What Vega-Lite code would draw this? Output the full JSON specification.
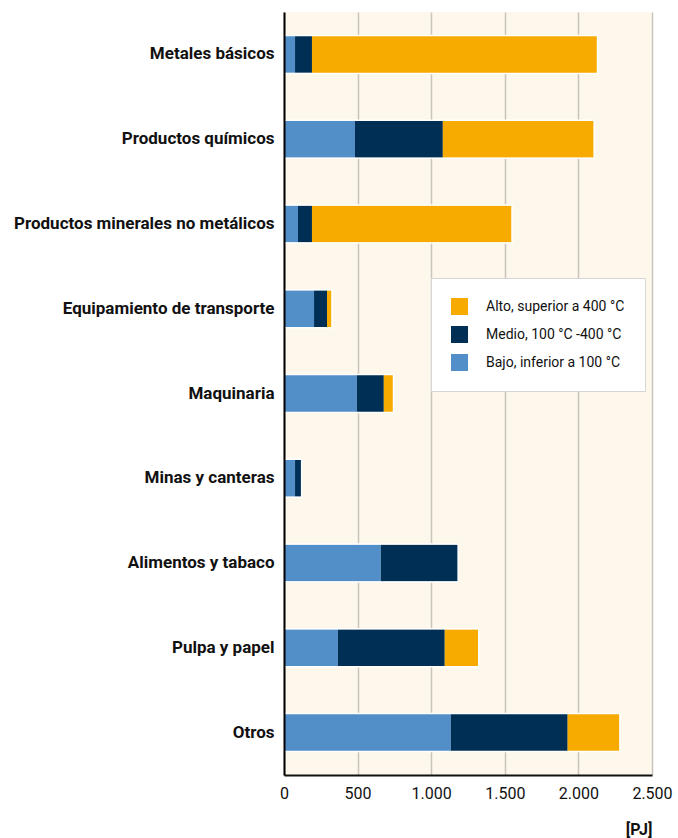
{
  "$schema": "https://vega.github.io/schema/vega-lite/v6.json",
  "autosize": "none",
  "width": 368,
  "height": 763,
  "padding": {"left": 284, "top": 12, "right": 26, "bottom": 63},
  "background": "white",
  "config": {
    "view": {"fill": "#FEF7EB", "stroke": null},
    "font": "Roboto"
  },
  "data": {
    "values": [
      {"sector": "Metales básicos", "nivel": "Bajo, inferior a 100 °C", "ord": 1, "value": 75},
      {"sector": "Metales básicos", "nivel": "Medio, 100 °C -400 °C", "ord": 2, "value": 115},
      {"sector": "Metales básicos", "nivel": "Alto, superior a 400 °C", "ord": 3, "value": 1940},
      {"sector": "Productos químicos", "nivel": "Bajo, inferior a 100 °C", "ord": 1, "value": 482},
      {"sector": "Productos químicos", "nivel": "Medio, 100 °C -400 °C", "ord": 2, "value": 597},
      {"sector": "Productos químicos", "nivel": "Alto, superior a 400 °C", "ord": 3, "value": 1028},
      {"sector": "Productos minerales no metálicos", "nivel": "Bajo, inferior a 100 °C", "ord": 1, "value": 95},
      {"sector": "Productos minerales no metálicos", "nivel": "Medio, 100 °C -400 °C", "ord": 2, "value": 95},
      {"sector": "Productos minerales no metálicos", "nivel": "Alto, superior a 400 °C", "ord": 3, "value": 1359},
      {"sector": "Equipamiento de transporte", "nivel": "Bajo, inferior a 100 °C", "ord": 1, "value": 204},
      {"sector": "Equipamiento de transporte", "nivel": "Medio, 100 °C -400 °C", "ord": 2, "value": 88},
      {"sector": "Equipamiento de transporte", "nivel": "Alto, superior a 400 °C", "ord": 3, "value": 34},
      {"sector": "Maquinaria", "nivel": "Bajo, inferior a 100 °C", "ord": 1, "value": 495},
      {"sector": "Maquinaria", "nivel": "Medio, 100 °C -400 °C", "ord": 2, "value": 183},
      {"sector": "Maquinaria", "nivel": "Alto, superior a 400 °C", "ord": 3, "value": 66},
      {"sector": "Minas y canteras", "nivel": "Bajo, inferior a 100 °C", "ord": 1, "value": 75},
      {"sector": "Minas y canteras", "nivel": "Medio, 100 °C -400 °C", "ord": 2, "value": 45},
      {"sector": "Minas y canteras", "nivel": "Alto, superior a 400 °C", "ord": 3, "value": 0},
      {"sector": "Alimentos y tabaco", "nivel": "Bajo, inferior a 100 °C", "ord": 1, "value": 658},
      {"sector": "Alimentos y tabaco", "nivel": "Medio, 100 °C -400 °C", "ord": 2, "value": 525},
      {"sector": "Alimentos y tabaco", "nivel": "Alto, superior a 400 °C", "ord": 3, "value": 0},
      {"sector": "Pulpa y papel", "nivel": "Bajo, inferior a 100 °C", "ord": 1, "value": 366},
      {"sector": "Pulpa y papel", "nivel": "Medio, 100 °C -400 °C", "ord": 2, "value": 726},
      {"sector": "Pulpa y papel", "nivel": "Alto, superior a 400 °C", "ord": 3, "value": 231},
      {"sector": "Otros", "nivel": "Bajo, inferior a 100 °C", "ord": 1, "value": 1133},
      {"sector": "Otros", "nivel": "Medio, 100 °C -400 °C", "ord": 2, "value": 794},
      {"sector": "Otros", "nivel": "Alto, superior a 400 °C", "ord": 3, "value": 355}
    ]
  },
  "encoding": {
    "y": {
      "field": "sector",
      "type": "nominal",
      "sort": ["Metales básicos", "Productos químicos", "Productos minerales no metálicos", "Equipamiento de transporte", "Maquinaria", "Minas y canteras", "Alimentos y tabaco", "Pulpa y papel", "Otros"],
      "title": null,
      "axis": {
        "ticks": false,
        "zindex": 2,
        "labelPadding": 10,
        "labelFont": "Roboto",
        "labelFontWeight": "bold",
        "labelFontSize": 17,
        "labelColor": "#111111",
        "labelLimit": 300,
        "domainColor": "#000000",
        "domainWidth": 2
      }
    }
  },
  "layer": [
    {
      "mark": {"type": "bar", "size": 37},
      "encoding": {
        "x": {
          "field": "value",
          "type": "quantitative",
          "stack": "zero",
          "scale": {"domain": [0, 2500], "nice": false},
          "title": "[PJ]",
          "axis": {
            "values": [0, 500, 1000, 1500, 2000, 2500],
            "labelExpr": "replace(format(datum.value, ',d'), ',', '.')",
            "ticks": false,
            "labelPadding": 10,
            "labelFont": "Roboto",
            "labelFontSize": 16,
            "labelColor": "#111111",
            "labelFlush": false,
            "grid": true,
            "gridColor": "#C9C4BD",
            "gridWidth": 1.5,
            "domainColor": "#111111",
            "domainWidth": 2,
            "titleFont": "Roboto",
            "titleFontSize": 16,
            "titleFontWeight": "bold",
            "titleColor": "#111111",
            "titleAnchor": "end",
            "titleAlign": "right",
            "titleBaseline": "alphabetic",
            "titleX": 368,
            "titleY": 59
          }
        },
        "color": {
          "field": "nivel",
          "type": "nominal",
          "scale": {
            "domain": ["Alto, superior a 400 °C", "Medio, 100 °C -400 °C", "Bajo, inferior a 100 °C"],
            "range": ["#F7AB00", "#002F56", "#528FC8"]
          },
          "legend": {
            "title": null,
            "orient": "none",
            "legendX": 147,
            "legendY": 266,
            "fillColor": "white",
            "strokeColor": "#D6D6D6",
            "padding": 20,
            "symbolType": "square",
            "symbolSize": 289,
            "symbolStrokeWidth": 0,
            "symbolOpacity": 1,
            "labelFont": "Roboto",
            "labelFontSize": 14,
            "labelColor": "#111111",
            "labelOffset": 18,
            "rowPadding": 11,
            "labelLimit": 300
          }
        },
        "order": {"field": "ord", "type": "quantitative"}
      }
    },
    {
      "mark": {"type": "bar", "size": 38, "fillOpacity": 0, "stroke": "white", "strokeWidth": 1.5},
      "encoding": {
        "x": {"aggregate": "sum", "field": "value", "type": "quantitative"}
      }
    }
  ]
}
